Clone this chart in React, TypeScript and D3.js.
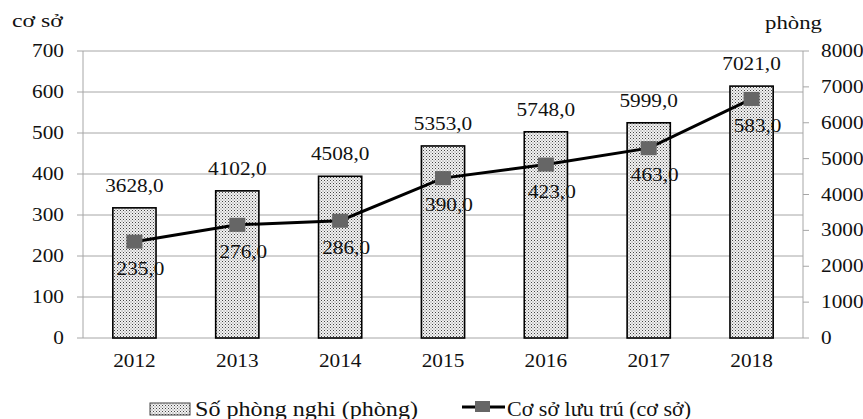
import React from 'react';
import * as d3 from 'd3';

const years = ['2012', '2013', '2014', '2015', '2016', '2017', '2018'];
const rooms = [3628, 4102, 4508, 5353, 5748, 5999, 7021];
const establishments = [235, 276, 286, 390, 423, 463, 583];
const leftTicks = [0, 100, 200, 300, 400, 500, 600, 700];
const rightTicks = [0, 1000, 2000, 3000, 4000, 5000, 6000, 7000, 8000];
const leftTitle = 'cơ sở';
const rightTitle = 'phòng';
const barLegend = 'Số phòng nghi (phòng)';
const lineLegend = 'Cơ sở lưu trú (cơ sở)';

const W = 863;
const H = 419;
const M = { left: 83, right: 803, top: 51, bottom: 338 };
const SX = 1.12;
const FONT = 'Liberation Serif, serif';
const FS = 19;

const fmt = (v: number) => d3.format('.1f')(v).replace('.', ',');

function T({ x, y, anchor = 'start', children, size = FS, sx = SX }: any) {
  return (
    <text
      transform={`translate(${x},${y}) scale(${sx},1)`}
      textAnchor={anchor}
      style={{ fontFamily: FONT, fontSize: size }}
      fill="#111"
    >
      {children}
    </text>
  );
}

export default function App() {
  const x = d3.scaleBand<string>().domain(years).range([M.left, M.right]).paddingInner(0).paddingOuter(0);
  const yL = d3.scaleLinear().domain([0, 700]).range([M.bottom, M.top]);
  const yR = d3.scaleLinear().domain([0, 8000]).range([M.bottom, M.top]);
  const bw = x.bandwidth() * 0.42;
  const cx = (d: string) => (x(d) as number) + x.bandwidth() / 2;
  const line = d3
    .line<number>()
    .x((_, i) => cx(years[i]))
    .y((d) => yL(d));

  return (
    <svg
      width={W}
      height={H}
      style={{ position: 'absolute', left: 0, top: 0, display: 'block', background: '#fff' }}
    >
      <defs>
        <pattern id="dots" width="3" height="3" patternUnits="userSpaceOnUse">
          <rect width="3" height="3" fill="#f2f2f2" />
          <rect x="0" y="0" width="1" height="1" fill="#444" />
          <rect x="1.5" y="1.5" width="1" height="1" fill="#777" />
        </pattern>
      </defs>
      <rect width={W} height={H} fill="#fff" />
      {leftTicks.map((t) => (
        <line key={t} x1={M.left} x2={M.right} y1={yL(t)} y2={yL(t)} stroke="#a6a6a6" strokeWidth={1} />
      ))}
      <line x1={M.left} x2={M.left} y1={M.top} y2={M.bottom} stroke="#a6a6a6" />
      <line x1={M.right} x2={M.right} y1={M.top} y2={M.bottom} stroke="#a6a6a6" />
      {leftTicks.map((t) => (
        <g key={'l' + t}>
          <line x1={M.left - 6} x2={M.left} y1={yL(t)} y2={yL(t)} stroke="#a6a6a6" />
          <T x={M.left - 19} y={yL(t) + 6} anchor="end">{t}</T>
        </g>
      ))}
      {rightTicks.map((t) => (
        <g key={'r' + t}>
          <line x1={M.right} x2={M.right + 6} y1={yR(t)} y2={yR(t)} stroke="#a6a6a6" />
          <T x={M.right + 18} y={yR(t) + 6}>{t}</T>
        </g>
      ))}
      <T x={12} y={27} sx={1.25}>{leftTitle}</T>
      <T x={765} y={29} sx={1.2}>{rightTitle}</T>
      {years.map((yr, i) => (
        <g key={yr}>
          <rect
            x={cx(yr) - bw / 2}
            y={yR(rooms[i])}
            width={bw}
            height={M.bottom - yR(rooms[i])}
            fill="url(#dots)"
            stroke="#000"
            strokeWidth={1.6}
          />
          <T x={cx(yr)} y={yR(rooms[i]) - 16} anchor="middle">{fmt(rooms[i])}</T>
          <T x={cx(yr)} y={M.bottom + 29} anchor="middle">{yr}</T>
        </g>
      ))}
      <path d={line(establishments) as string} fill="none" stroke="#000" strokeWidth={3} />
      {establishments.map((v, i) => (
        <g key={'m' + i}>
          <rect x={cx(years[i]) - 8} y={yL(v) - 7} width={16} height={14} fill="#666" />
          <T x={cx(years[i]) + 6} y={yL(v) + 33} anchor="middle">{fmt(v)}</T>
        </g>
      ))}
      <rect x={150} y={403} width={40} height={12} fill="url(#dots)" stroke="#444" strokeWidth={1} />
      <text
        x={195}
        y={416}
        textLength={223}
        lengthAdjust="spacingAndGlyphs"
        style={{ fontFamily: FONT, fontSize: 20 }}
        fill="#111"
      >
        {barLegend}
      </text>
      <line x1={462} x2={505} y1={407} y2={407} stroke="#000" strokeWidth={3} />
      <rect x={475} y={401} width={15} height={11} fill="#666" />
      <text
        x={507}
        y={416}
        textLength={184}
        lengthAdjust="spacingAndGlyphs"
        style={{ fontFamily: FONT, fontSize: 20 }}
        fill="#111"
      >
        {lineLegend}
      </text>
    </svg>
  );
}
